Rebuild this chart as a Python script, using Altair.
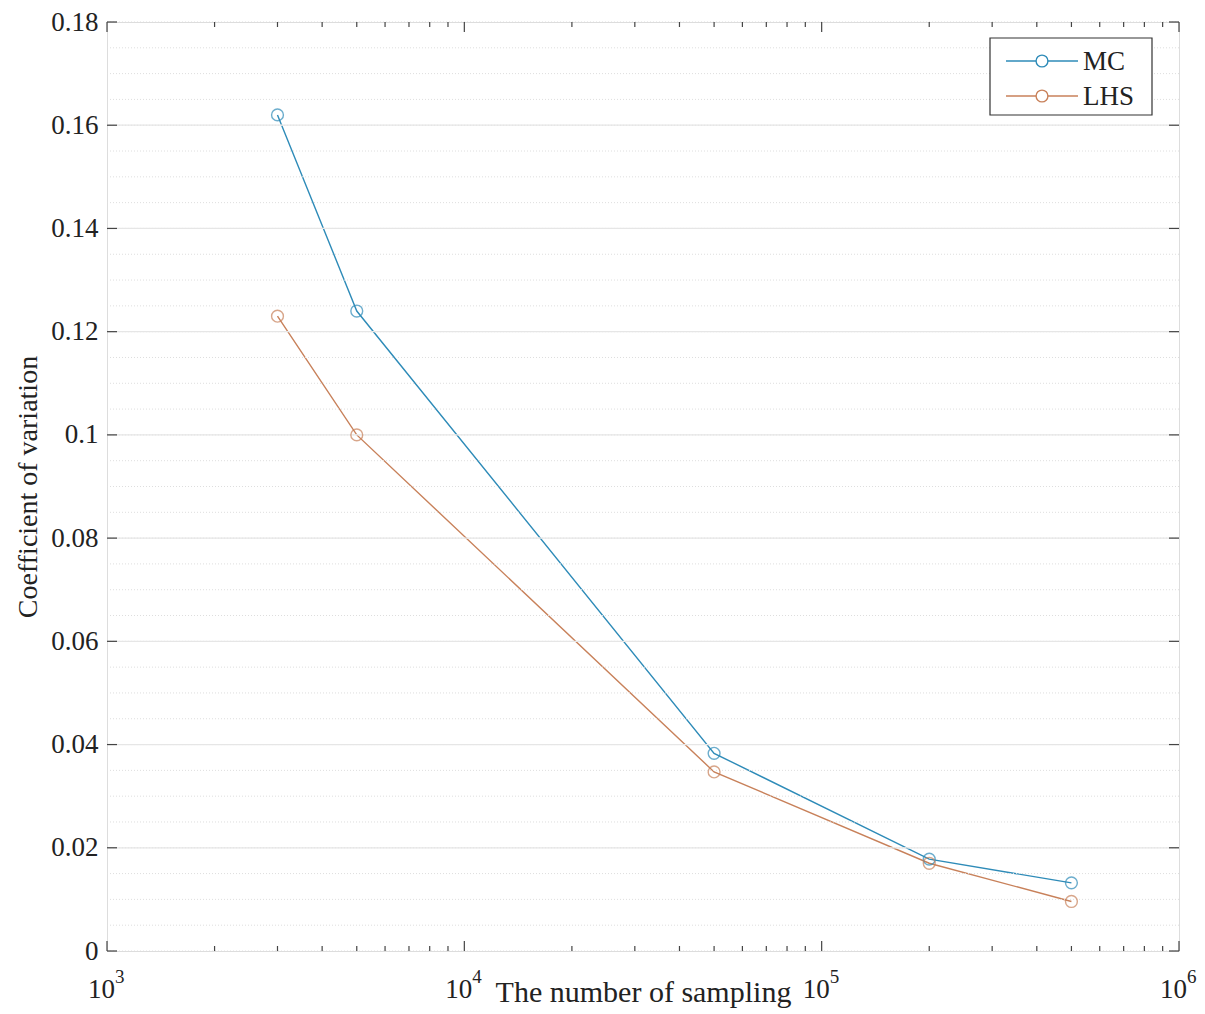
import altair as alt
import pandas as pd

samples = [3000, 5000, 50000, 200000, 500000]
mc = [0.162, 0.124, 0.0383, 0.0178, 0.0132]
lhs = [0.123, 0.100, 0.0347, 0.0170, 0.0096]
series = ["MC", "LHS"]
colors = ["#2E8BB8", "#C8815A"]

y_major = [0, 0.02, 0.04, 0.06, 0.08, 0.10, 0.12, 0.14, 0.16, 0.18]
y_minor = [round(i * 0.005, 3) for i in range(37)]
x_major = [1000, 10000, 100000, 1000000]
x_base = ["10", "10", "10", "10"]
x_exp = ["3", "4", "5", "6"]
x_minor = [m * 10 ** k for k in (3, 4, 5) for m in range(2, 10)]

W, H = 1072, 929
FONT = "Liberation Serif"
TXT = "#222"

df = pd.DataFrame({
    "n": samples * 2,
    "cv": mc + lhs,
    "method": ["MC"] * len(samples) + ["LHS"] * len(samples),
})

xs = alt.Scale(type="log", domain=[1000, 1000000], nice=False)
ys = alt.Scale(domain=[0, 0.18], nice=False, zero=False)
cs = alt.Scale(domain=series, range=colors)

lines = alt.Chart(df).mark_line(strokeWidth=1.4).encode(
    x=alt.X("n:Q", scale=xs, axis=alt.Axis(
        values=x_major, labels=False, ticks=False, domain=False, grid=False,
        title="The number of sampling",
        titleFont=FONT, titleFontSize=30, titleFontWeight="normal",
        titleColor=TXT, titleY=50, titleBaseline="alphabetic",
    )),
    y=alt.Y("cv:Q", scale=ys, axis=alt.Axis(
        values=y_major, format="~g", title="Coefficient of variation",
        grid=False, ticks=False, domain=False, labelPadding=9,
        labelFont=FONT, labelFontSize=27, labelColor=TXT,
        titleFont=FONT, titleFontSize=28, titleFontWeight="normal",
        titleColor=TXT, titlePadding=8,
    )),
    color=alt.Color("method:N", scale=cs, legend=None),
    detail="method:N",
)

# grids
minor_grid = alt.Chart(pd.DataFrame({"v": y_minor})).mark_rule(
    color="#dedede", strokeDash=[1, 2], strokeWidth=1
).encode(y=alt.Y("v:Q", scale=ys), x=alt.value(0), x2=alt.value(W))

major_grid = alt.Chart(pd.DataFrame({"v": y_major[1:-1]})).mark_rule(
    color="#e6e6e6", strokeWidth=1.3
).encode(y=alt.Y("v:Q", scale=ys), x=alt.value(0), x2=alt.value(W))

points = alt.Chart(df).mark_point(size=140, strokeWidth=1.4, filled=False).encode(
    x=alt.X("n:Q", scale=xs),
    y=alt.Y("cv:Q", scale=ys),
    color=alt.Color("method:N", scale=cs, legend=None),
)

# x tick labels as 10^k
lab_df = pd.DataFrame({"v": x_major, "b": x_base, "e": x_exp})
lab_base = alt.Chart(lab_df).mark_text(
    font=FONT, fontSize=27, color=TXT, align="right", baseline="alphabetic", dx=8
).encode(x=alt.X("v:Q", scale=xs), y=alt.value(H + 47), text="b:N")
lab_exp = alt.Chart(lab_df).mark_text(
    font=FONT, fontSize=19, color=TXT, align="left", baseline="alphabetic", dx=8
).encode(x=alt.X("v:Q", scale=xs), y=alt.value(H + 32), text="e:N")

# inward ticks
TICK = "#444"
def vrule(vals, x1, x2):
    return alt.Chart(pd.DataFrame({"v": vals})).mark_rule(color=TICK, strokeWidth=1.2).encode(
        y=alt.Y("v:Q", scale=ys), x=alt.value(x1), x2=alt.value(x2))

def hrule(vals, y1, y2):
    return alt.Chart(pd.DataFrame({"v": vals})).mark_rule(color=TICK, strokeWidth=1.2).encode(
        x=alt.X("v:Q", scale=xs), y=alt.value(y1), y2=alt.value(y2))

ticks = [
    vrule(y_major, 0, 10), vrule(y_major, W, W - 10),
    hrule(x_major, H, H - 10), hrule(x_major, 0, 10),
    hrule(x_minor, H, H - 5), hrule(x_minor, 0, 5),
]

# legend (manual box)
LX0, LX1, LY0, LY1 = 883, 1045, 16, 93
legend_box = alt.Chart(pd.DataFrame({"a": [0]})).mark_rect(
    fill="white", stroke="#333", strokeWidth=1.2
).encode(x=alt.value(LX0), x2=alt.value(LX1), y=alt.value(LY0), y2=alt.value(LY1))

legend_parts = []
for name, ly in zip(series, [39, 74]):
    d = pd.DataFrame({"method": [name]})
    base = alt.Chart(d)
    legend_parts.append(base.mark_rule(strokeWidth=1.4).encode(
        x=alt.value(899), x2=alt.value(971), y=alt.value(ly),
        color=alt.Color("method:N", scale=cs, legend=None)))
    legend_parts.append(base.mark_point(size=140, strokeWidth=1.4, filled=False, fill="white", fillOpacity=1).encode(
        x=alt.value(935), y=alt.value(ly),
        color=alt.Color("method:N", scale=cs, legend=None)))
    legend_parts.append(base.mark_text(
        font=FONT, fontSize=27, color=TXT, align="left", baseline="middle"
    ).encode(x=alt.value(976), y=alt.value(ly + 1), text="method:N"))

chart = alt.layer(
    lines, minor_grid, major_grid, points, *ticks, lab_base, lab_exp,
    legend_box, *legend_parts
).properties(
    width=W, height=H,
    padding={"left": 99, "top": 14, "right": 18, "bottom": 60},
    autosize=alt.AutoSizeParams(type="none"),
).configure_view(
    stroke="#444", strokeWidth=1.3
).configure(background="white")

chart.save("out.html", embed_options={"renderer": "svg", "actions": False})
